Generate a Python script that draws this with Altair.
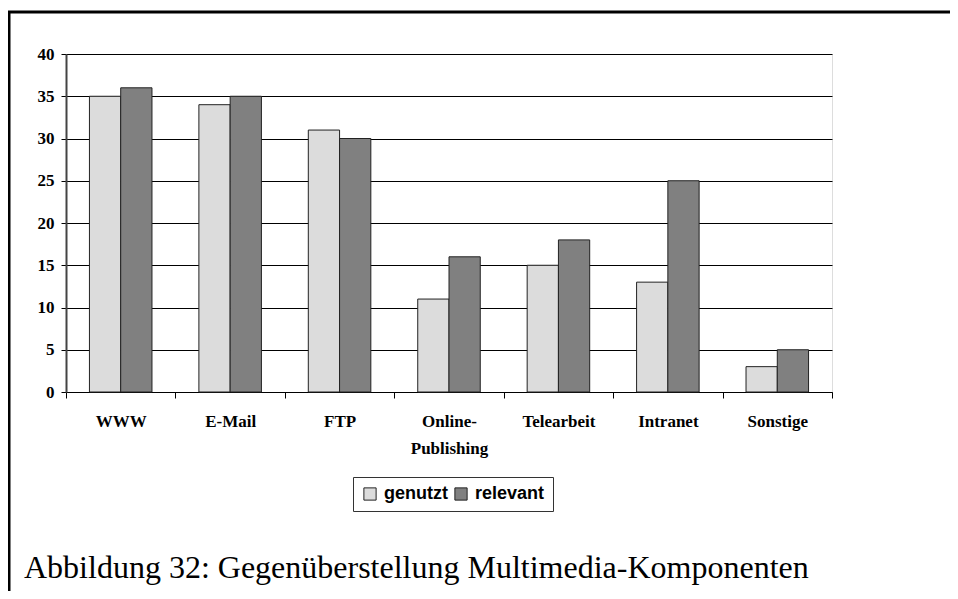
import altair as alt
import pandas as pd

categories = ["WWW", "E-Mail", "FTP", "Online-Publishing", "Telearbeit", "Intranet", "Sonstige"]
series = ["genutzt", "relevant"]
genutzt = [35, 34, 31, 11, 15, 13, 3]
relevant = [36, 35, 30, 16, 18, 25, 5]
y_ticks = [0, 5, 10, 15, 20, 25, 30, 35, 40]
caption = "Abbildung 32: Gegenüberstellung Multimedia-Komponenten"

rows = []
for c, g, r in zip(categories, genutzt, relevant):
    rows.append({"cat": c, "series": "genutzt", "value": g})
    rows.append({"cat": c, "series": "relevant", "value": r})
df = pd.DataFrame(rows)

bars = alt.Chart(df).mark_bar(stroke="#222", strokeWidth=1).encode(
    x=alt.X("cat:N", sort=categories, title=None,
            scale=alt.Scale(paddingInner=0, paddingOuter=0),
            axis=alt.Axis(labelAngle=0, tickBand="extent", labelFont="Liberation Serif",
                          labelFontWeight="bold", labelFontSize=17, labelColor="black",
                          labelPadding=15, labelLineHeight=27, tickSize=6, tickColor="black",
                          domainColor="black", domainWidth=1, grid=False,
                          labelExpr="datum.label == 'Online-Publishing' ? ['Online-', 'Publishing'] : datum.label")),
    xOffset=alt.XOffset("series:N", sort=series,
                        scale=alt.Scale(paddingInner=0, paddingOuter=0.75)),
    y=alt.Y("value:Q", title=None, scale=alt.Scale(domain=[0, 40], nice=False),
            axis=alt.Axis(values=y_ticks, labelFont="Liberation Serif", labelFontWeight="bold",
                          labelFontSize=17, labelColor="black", labelPadding=7, tickSize=5,
                          tickColor="black", domainColor="#444", domainWidth=2,
                          gridColor="black", gridWidth=1, gridOpacity=1)),
    color=alt.Color("series:N", sort=series,
                    scale=alt.Scale(domain=series, range=["#DCDCDC", "#808080"]),
                    legend=alt.Legend(title=None, orient="none", legendX=287, legendY=423,
                                      direction="horizontal", columns=2, columnPadding=4,
                                      symbolType="square", symbolSize=150,
                                      symbolStrokeColor="#222", symbolStrokeWidth=1,
                                      labelFont="Liberation Sans", labelFontWeight="bold",
                                      labelFontSize=18, labelColor="black", labelOffset=5,
                                      strokeColor="#333", padding=8, fillColor="white")),
)

frame_df = pd.DataFrame({"k": [0]})
left_line = alt.Chart(frame_df).mark_rule(color="black", strokeWidth=3).encode(
    x=alt.value(-57), y=alt.value(-43), y2=alt.value(600))
top_line = alt.Chart(frame_df).mark_rule(color="black", strokeWidth=3).encode(
    x=alt.value(-58), x2=alt.value(900), y=alt.value(-42))

cap_df = pd.DataFrame({"t": [caption]})
cap = alt.Chart(cap_df).mark_text(font="Liberation Serif", fontSize=32, color="black",
                                  align="left", baseline="alphabetic").encode(
    x=alt.value(-42), y=alt.value(524), text="t:N")

chart = alt.layer(bars, left_line, top_line, cap).properties(
    width=766, height=338,
    autosize=alt.AutoSizeParams(type="none"),
    padding={"left": 58, "top": 46, "right": 118, "bottom": 199},
).configure_view(stroke="#555", strokeWidth=1.5).configure(background="white")

chart.save("out.html", embed_options={"renderer": "svg", "actions": False})
